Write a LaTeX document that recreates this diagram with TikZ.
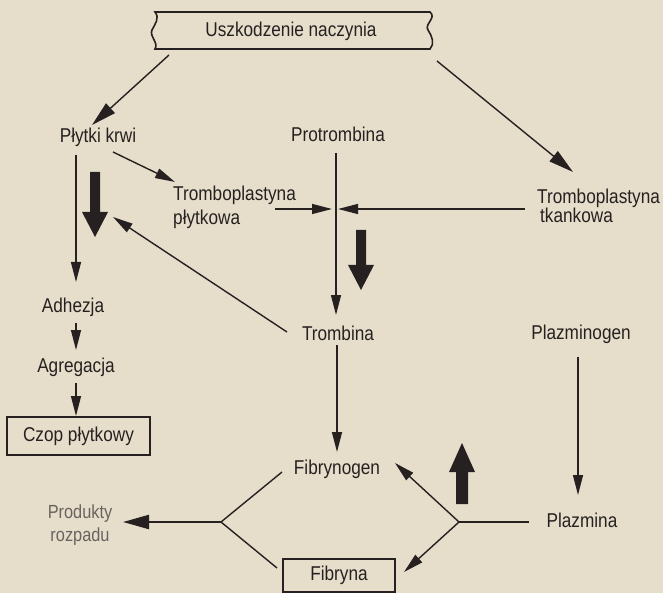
\documentclass[tikz,border=0pt]{standalone}
\usepackage{fontspec}
\setmainfont{Liberation Sans}[FakeStretch=0.86]
\usetikzlibrary{arrows.meta}
\definecolor{paper}{HTML}{E6DECB}
\definecolor{ink}{HTML}{262120}
\definecolor{faint}{HTML}{6A635D}
\begin{document}
\begin{tikzpicture}[x=1pt,y=-1pt,
  lbl/.style={font=\fontsize{20}{22}\selectfont, text=ink, inner sep=0pt},
  con/.style={draw=ink, line width=1.4pt, -{Triangle[length=20pt,width=10pt]}},
  conL/.style={draw=ink, line width=1.4pt, -{Triangle[length=25pt,width=13pt]}},
  conT/.style={draw=ink, line width=2.2pt, -{Triangle[length=26pt,width=14pt]}},
  plainline/.style={draw=ink, line width=1.4pt},
  block/.style={fill=ink, draw=none},
  boxed/.style={lbl, draw=ink, line width=1.5pt}]
\fill[paper] (0,0) rectangle (663,593);
\useasboundingbox (0,0) rectangle (663,593);

% top box with wavy sides
\draw[ink, line width=1.6pt] (155,12) -- (430,12)
  .. controls (437,18) and (424,24) .. (428,30)
  .. controls (432,36) and (435,44) .. (430,49)
  -- (155,49)
  .. controls (159,43) and (149,36) .. (152,30)
  .. controls (155,24) and (160,18) .. (155,12) -- cycle;
\node[lbl] (top) at (291,31) {Uszkodzenie naczynia};

% nodes
\node[lbl] (plytki) at (98,137) {Płytki krwi};
\node[lbl] (protr) at (338,134) {Protrombina};
\node[lbl, anchor=west, align=left, font=\fontsize{20}{24}\selectfont] (tpl) at (173,207) {Tromboplastyna\\płytkowa};
\node[lbl, anchor=west, align=left, font=\fontsize{20}{18}\selectfont] (ttk) at (537,206) {Tromboplastyna\\\hspace{3pt}tkankowa};
\node[lbl] (adh) at (73,307) {Adhezja};
\node[lbl] (agr) at (76,367) {Agregacja};
\node[boxed, minimum width=143pt, minimum height=38pt] (czop) at (78.5,436) {Czop płytkowy};
\node[lbl] (tromb) at (338,333) {Trombina};
\node[lbl] (plg) at (581,334) {Plazminogen};
\node[lbl] (plm) at (582,520) {Plazmina};
\node[lbl] (fibg) at (337,469) {Fibrynogen};
\node[boxed, minimum width=112pt, minimum height=33pt] (fibr) at (339,575.5) {Fibryna};
\node[lbl, text=faint, align=center, font=\fontsize{19}{23}\selectfont] (prod) at (80,525) {Produkty\\rozpadu};

% connector end points
\coordinate (topL) at (169,55);
\coordinate (plyT) at (92,125);
\coordinate (topR) at (437,61);
\coordinate (ttkT) at (573,172);
\coordinate (plyR) at (113,152);
\coordinate (tplT) at (175,182);
\coordinate (plyD) at (76,155);
\coordinate (adhT) at (76,282);
\coordinate (adhD) at (76,323);
\coordinate (agrT) at (76,350);
\coordinate (agrD) at (76,383);
\coordinate (czopT) at (76,416);
\coordinate (trombL) at (287,332);
\coordinate (bigT) at (113,217);
\coordinate (tplR) at (275,209);
\coordinate (crossL) at (332,209);
\coordinate (ttkL) at (525,209);
\coordinate (crossR) at (338,209);
\coordinate (protD) at (336,153);
\coordinate (trombT) at (336,315);
\coordinate (trombD) at (337,345);
\coordinate (fibgT) at (337,452);
\coordinate (plgD) at (578,357);
\coordinate (plmT) at (578,495);
\coordinate (vL) at (221,522);
\coordinate (vLu) at (282,472);
\coordinate (vLd) at (277,568);
\coordinate (prodR) at (123,522);
\coordinate (vR) at (459,522);
\coordinate (plmL) at (529,522);
\coordinate (fibgR) at (395,463);
\coordinate (fibrR) at (404,572);

% connectors
\draw[conL] (topL) -- (plyT);
\draw[conL] (topR) -- (ttkT);
\draw[con] (plyR) -- (tplT);
\draw[con] (plyD) -- (adhT);
\draw[con] (adhD) -- (agrT);
\draw[con] (agrD) -- (czopT);
\draw[con] (trombL) -- (bigT);
\draw[con] (tplR) -- (crossL);
\draw[con] (ttkL) -- (crossR);
\draw[con] (protD) -- (trombT);
\draw[con] (trombD) -- (fibgT);
\draw[con] (plgD) -- (plmT);
\draw[plainline] (vLu) -- (vL) -- (vLd);
\draw[conT] (vL) -- (prodR);
\draw[plainline] (plmL) -- (vR);
\draw[con] (vR) -- (fibgR);
\draw[con] (vR) -- (fibrR);

% thick block arrows
\fill[block] (90,172) -- (100,172) -- (100,212) -- (108,212) -- (95,237) -- (82,212) -- (90,212) -- cycle;
\fill[block] (356,230) -- (366,230) -- (366,265) -- (374,265) -- (361,290) -- (348,265) -- (356,265) -- cycle;
\fill[block] (456,504) -- (468,504) -- (468,472) -- (475,472) -- (462,443) -- (449,472) -- (456,472) -- cycle;
\end{tikzpicture}
\end{document}
